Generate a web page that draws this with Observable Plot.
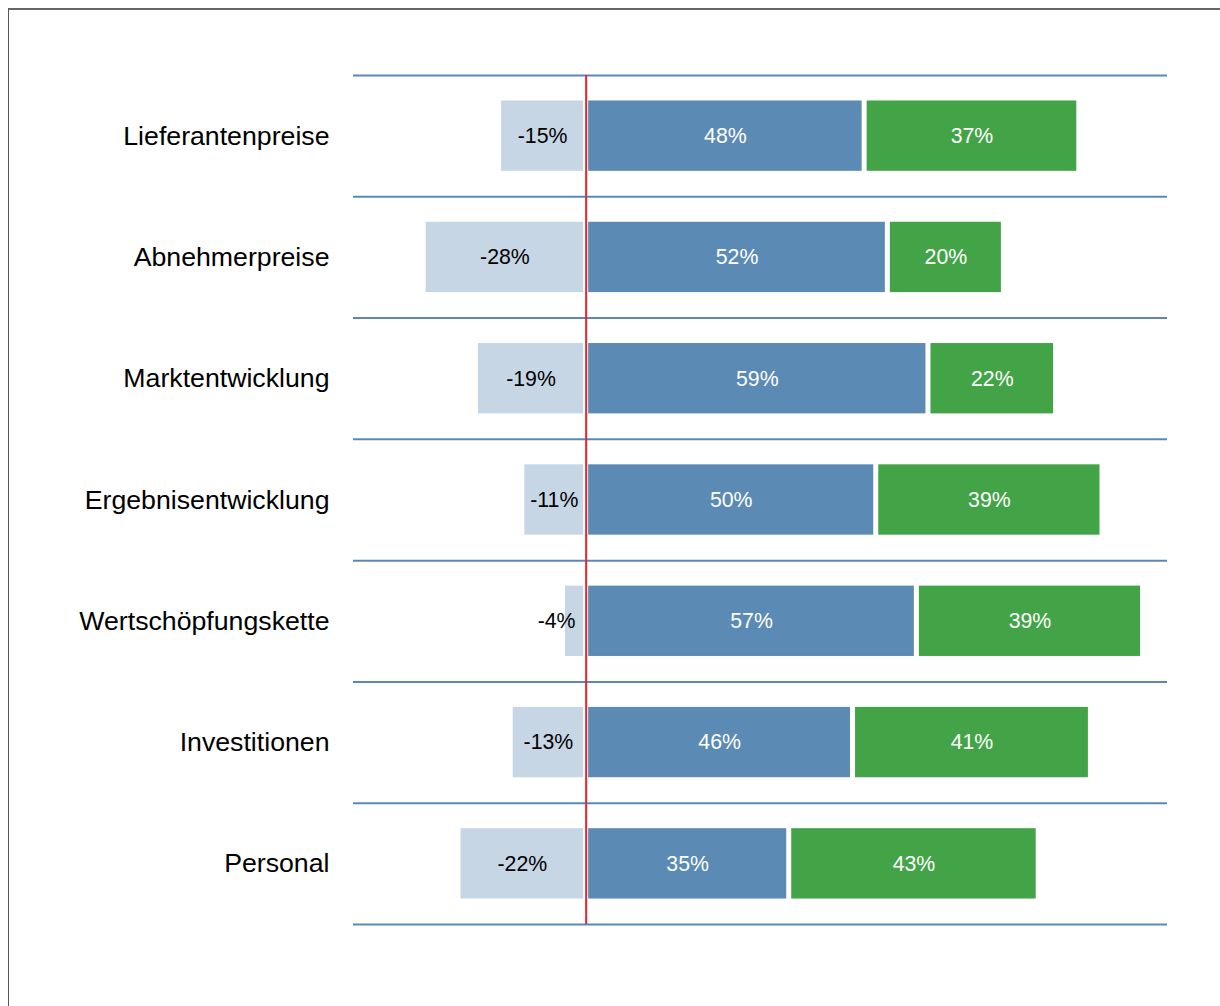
<!DOCTYPE html>
<html>
<head>
<meta charset="utf-8">
<script src="https://cdn.jsdelivr.net/npm/d3@7"></script>
<script src="https://cdn.jsdelivr.net/npm/@observablehq/plot@0.6"></script>
<style>
  html, body { margin: 0; padding: 0; background: #fff; overflow: hidden; }
  #wrap { position: relative; width: 1220px; height: 1006px; }
  #frame { position: absolute; left: 8px; top: 8px; width: 1230px; height: 1010px;
           border-left: 1px solid #555; border-top: 2px solid #666; box-sizing: border-box; }
  #chart { position: absolute; left: 0; top: 0; }
</style>
</head>
<body>
<div id="wrap"><div id="frame"></div><div id="chart"></div></div>
<script>
const categories = ["Lieferantenpreise", "Abnehmerpreise", "Marktentwicklung", "Ergebnisentwicklung", "Wertschöpfungskette", "Investitionen", "Personal"];
const negativeValues = [-15, -28, -19, -11, -4, -13, -22];
const neutralValues = [48, 52, 59, 50, 57, 46, 35];
const positiveValues = [37, 20, 22, 39, 39, 41, 43];
const xDomain = [-40.1, 100.2];

const colors = {neg: "#c6d6e5", neu: "#5b8ab5", pos: "#43a447", rule: "#5b88b4", zero: "#e8262a"};

// build segment table from arrays
const segments = [];
categories.forEach((c, i) => {
  segments.push({cat: c, i, key: "neg", x1: negativeValues[i], x2: 0, v: negativeValues[i]});
  segments.push({cat: c, i, key: "neu", x1: 0, x2: neutralValues[i], v: neutralValues[i]});
  segments.push({cat: c, i, key: "pos", x1: neutralValues[i], x2: neutralValues[i] + positiveValues[i], v: positiveValues[i]});
});
const pad = 0.21;
const labelX = d => d.key === "neg" ? Math.min((d.x1 + d.x2) / 2, -5.1) : (d.x1 + d.x2) / 2;

const plot = Plot.plot({
  width: 1220,
  height: 1006,
  marginLeft: 353,
  marginRight: 53,
  marginTop: 75,
  marginBottom: 82,
  style: {fontFamily: "'Liberation Sans', Arial, sans-serif", color: "#000", background: "transparent"},
  x: {domain: xDomain, axis: null},
  y: {domain: [0, categories.length], reverse: true, axis: null},
  color: {domain: ["neg", "neu", "pos"], range: [colors.neg, colors.neu, colors.pos]},
  marks: [
    Plot.ruleY(d3.range(categories.length + 1), {stroke: colors.rule, strokeWidth: 2}),
    Plot.rectX(segments, {
      x1: "x1", x2: "x2",
      y1: d => d.i + pad, y2: d => d.i + 1 - pad,
      fill: "key", insetLeft: 2.5, insetRight: 2.5
    }),
    Plot.ruleX([0], {y1: 0, y2: categories.length, stroke: colors.zero, strokeWidth: 2}),
    Plot.text(segments, {
      x: labelX, y: d => d.i + 0.5,
      text: d => `${d.v}%`,
      fill: d => d.key === "neg" ? "#000" : "#fff",
      fontSize: 21.3
    }),
    Plot.axisY(d3.range(categories.length).map(i => i + 0.5), {
      tickFormat: d => categories[Math.floor(d)],
      tickSize: 0, tickPadding: 24, fontSize: 26.7, anchor: "left", label: null
    })
  ]
});
document.getElementById("chart").appendChild(plot);
</script>
</body>
</html>
